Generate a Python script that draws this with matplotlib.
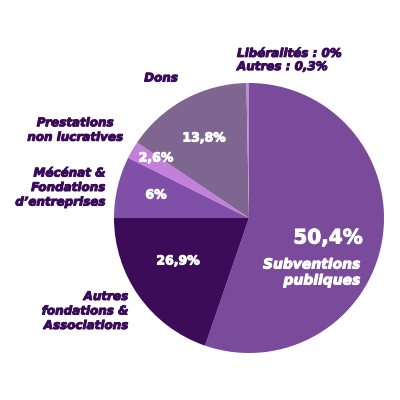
import matplotlib
matplotlib.use("Agg")
import matplotlib.pyplot as plt
import matplotlib.patheffects as pe

# Data
categories = ["Subventions publiques", "Autres fondations & Associations",
              "Mécénat & Fondations d'entreprises", "Prestations non lucratives",
              "Dons", "Libéralités", "Autres"]
percent_labels = ["50,4%", "26,9%", "6%", "2,6%", "13,8%", "0%", "0,3%"]
# arc extents as drawn in the reference (degrees)
slice_sizes = [199.0, 71.0, 26.5, 7.5, 54.9, 0.0, 1.1]
colors = ["#7a4a9b", "#3d0c59", "#8050a8", "#c37fdb", "#7e6691", "#c08ad8", "#c08ad8"]

LABEL_COLOR = "#3a0b5a"
FONT = "DejaVu Sans"

fig = plt.figure(figsize=(4, 4), dpi=100)
ax = fig.add_axes([0, 0, 1, 1])

H = 400
cx, cy, r = 249, H - 218, 135
ax.pie(slice_sizes, colors=colors, startangle=90, counterclock=False,
       center=(cx, cy), radius=r, wedgeprops=dict(linewidth=0, edgecolor="none"))
ax.set_xlim(0, 400)
ax.set_ylim(0, 400)
ax.set_aspect("equal")
ax.axis("off")

def T(x, y, s, size=8.6, color=LABEL_COLOR, ha="center", italic=True, weight="bold", ls=1.15, stroke=0.7):
    ax.text(x, H - y, s, fontsize=size, color=color, ha=ha, va="center",
            fontfamily=FONT, fontstyle="italic" if italic else "normal",
            fontweight=weight, linespacing=ls,
            path_effects=[pe.withStroke(linewidth=stroke, foreground=color)])

# category labels
T(237, 60, "Libéralités : 0%\nAutres : 0,3%", ha="left", ls=1.02)
T(161, 78, "Dons")
T(75, 130, "Prestations\nnon lucratives")
T(105, 187.5, "Mécénat &\nFondations\nd’entreprises", ha="right")
T(128, 311, "Autres\nfondations &\nAssociations", ha="right")
T(360, 272.5, "Subventions\npubliques", ha="right", color="white", size=10, ls=1.18)

# percentages
T(328, 238, percent_labels[0], size=14.4, color="white", italic=False)
T(178, 261, percent_labels[1], size=9, color="white", italic=False)
T(156, 195, percent_labels[2], size=9, color="white", italic=False)
T(156, 158, percent_labels[3], size=9, color="white", italic=False)
T(204, 138, percent_labels[4], size=9, color="white", italic=False)

fig.savefig("out.png", dpi=100, facecolor="white")
